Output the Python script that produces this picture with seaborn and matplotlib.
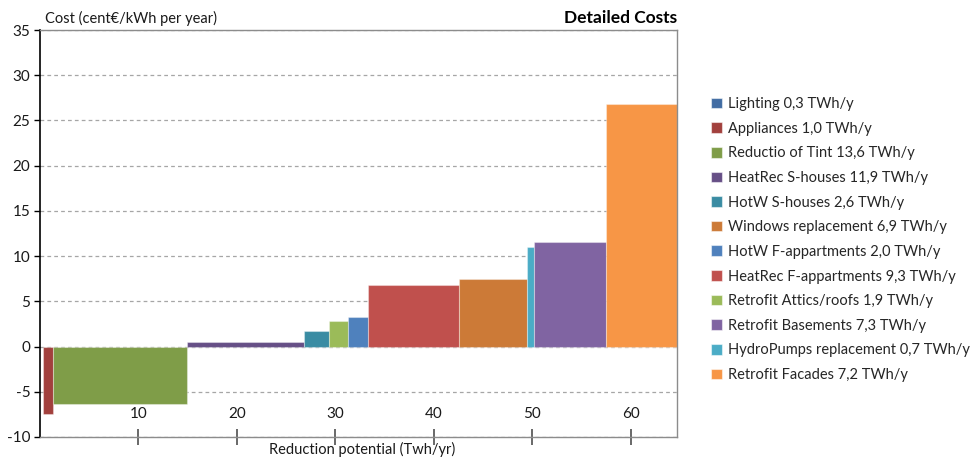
import numpy as np
import matplotlib
matplotlib.use("Agg")
import matplotlib.pyplot as plt
from matplotlib.patches import Patch
import seaborn as sns

# Measures: name, potential (TWh/y) and cost (cent€/kWh per year)
names = ["Lighting", "Appliances", "Reductio of Tint", "HeatRec S-houses",
         "HotW S-houses", "Windows replacement", "HotW F-appartments",
         "HeatRec F-appartments", "Retrofit Attics/roofs", "Retrofit Basements",
         "HydroPumps replacement", "Retrofit Facades"]
potential = [0.3, 1.0, 13.6, 11.9, 2.6, 6.9, 2.0, 9.3, 1.9, 7.3, 0.7, 7.2]
cost = [0.0, -7.5, -6.3, 0.45, 1.7, 7.45, 3.25, 6.8, 2.8, 11.6, 11.05, 26.8]
colors = ["#416CA3", "#A2403D", "#7F9D48", "#664F86", "#3A8CA3", "#CC7A37",
          "#4F81BD", "#C0504D", "#9BBB59", "#8064A2", "#4BACC6", "#F79646"]

# Order of the measures along the reduction axis (cheapest first)
curve_order = ["Lighting", "Appliances", "Reductio of Tint", "HeatRec S-houses",
               "HotW S-houses", "Retrofit Attics/roofs", "HotW F-appartments",
               "HeatRec F-appartments", "Windows replacement",
               "HydroPumps replacement", "Retrofit Basements", "Retrofit Facades"]

y_ticks = [-10, -5, 0, 5, 10, 15, 20, 25, 30, 35]
x_ticks = [10, 20, 30, 40, 50, 60]

sns.set_style("white")
plt.rcParams["font.family"] = ["Lato", "DejaVu Sans"]

fig = plt.figure(figsize=(9.71, 4.57), dpi=100)
ax = fig.add_axes([40 / 971, 1 - 437 / 457, 637 / 971, 407 / 457])

idx = [names.index(n) for n in curve_order]
w = np.array([potential[i] for i in idx])
h = np.array([cost[i] for i in idx])
c = [colors[i] for i in idx]
left = np.concatenate([[0], np.cumsum(w)[:-1]])

for x0, wi, hi, ci in zip(left, w, h, c):
    ax.bar(x0, hi, width=wi, align="edge", color=ci,
           edgecolor=(1, 1, 1, 0.35) if hi != 0 else "none",
           linewidth=0.8, zorder=2)

ax.set_xlim(0, np.sum(w))
ax.set_ylim(-10, 35)
ax.set_yticks(y_ticks)
ax.set_yticklabels([str(v) for v in y_ticks], fontsize=11, color="#1a1a1a")
ax.set_xticks(x_ticks)
ax.set_xticklabels([str(v) for v in x_ticks], fontsize=11, color="#1a1a1a")

ax.yaxis.grid(True, linestyle=(0, (3, 2.5)), color="#a6a6a6", linewidth=0.9)
ax.xaxis.grid(False)
ax.set_axisbelow(True)

ax.tick_params(axis="y", direction="out", length=4, width=1, color="#000000", pad=3,
               left=True)
ax.tick_params(axis="x", direction="inout", length=11, width=1.1, color="#404040",
               pad=-27, bottom=True)

for side in ["top", "right", "bottom"]:
    ax.spines[side].set_color("#8c8c8c")
    ax.spines[side].set_linewidth(1)
ax.spines["left"].set_color("#000000")
ax.spines["left"].set_linewidth(1.2)

fig.text(45 / 971, 1 - 18 / 457, "Cost (cent€/kWh per year)", fontsize=10.5,
         ha="left", va="center", color="#1a1a1a")
fig.text(677 / 971, 1 - 18 / 457, "Detailed Costs", fontsize=12.5,
         fontweight="bold", ha="right", va="center", color="#000000")
fig.text(362 / 971, 1 - 449 / 457, "Reduction potential (Twh/yr)", fontsize=10.5,
         ha="center", va="center", color="#1a1a1a")

labels = [f"{n} {p:.1f}".replace(".", ",") + " TWh/y" for n, p in zip(names, potential)]
handles = [Patch(facecolor=col, edgecolor=(1, 1, 1, 0.5), linewidth=0.8) for col in colors]
fig.legend(handles, labels, loc="upper left", bbox_to_anchor=(711 / 971, 1 - 97 / 457),
           frameon=False, fontsize=10.5, handlelength=0.75, handleheight=0.75,
           handletextpad=0.4, labelspacing=0.73, borderaxespad=0, borderpad=0)

fig.savefig("out.png", dpi=100)
